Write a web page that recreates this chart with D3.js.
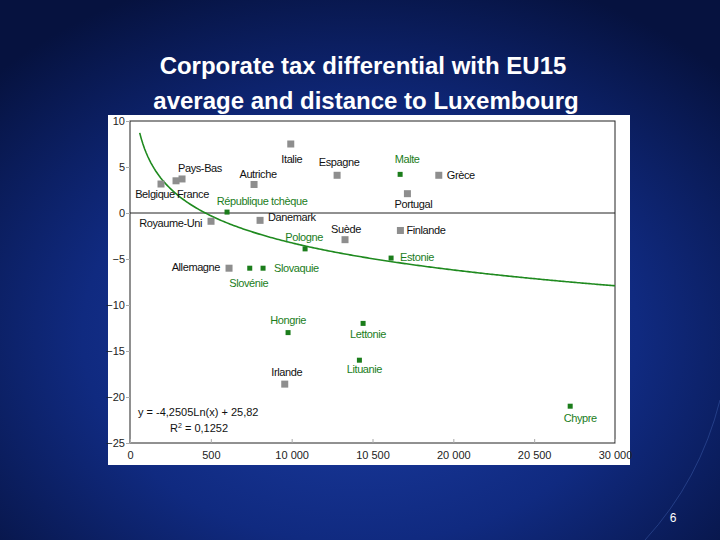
<!DOCTYPE html>
<html><head><meta charset="utf-8">
<script src="https://cdn.jsdelivr.net/npm/d3@7"></script>
<style>body{margin:0;}svg{display:block;}</style>
</head><body>
<div id="chart-area"></div>
<script>
// data
var names = ['Belgique','France','Pays-Bas','Italie','Autriche','Espagne','République tchèque','Royaume-Uni',
  'Danemark','Suède','Pologne','Allemagne','Slovénie','Slovaquie','Malte','Grèce','Portugal','Finlande',
  'Estonie','Hongrie','Lettonie','Lituanie','Irlande','Chypre'];
var distance = [1918,2847,3218,9944,7673,12810,6002,5012,8045,13300,10830,6126,7407,8230,16709,19100,17160,16726,
  16150,9777,14418,14190,9572,27228];
var taxDiff = [3.15,3.5,3.7,7.5,3.1,4.1,0.1,-0.9,-0.8,-2.9,-3.9,-6.0,-6.0,-6.0,4.2,4.1,2.1,-1.9,-4.9,-13.0,-12.0,-16.0,-18.6,-21.0];
var newMember = [0,0,0,0,0,0,1,0,0,0,1,0,1,1,1,0,0,0,1,1,1,1,0,1];
var xTicks = [0,5000,10000,15000,20000,25000,30000];
var xTickLabels = ['0','500','10 000','10 500','20 000','20 500','30 000'];
var yTicks = [10,5,0,-5,-10,-15,-20,-25];
var trend = {a:35.9, b:4.25};

// label placement [dx, dy, anchor]
var lab = {
 'Belgique':[-6,14,'middle'],'France':[1,17,'start'],'Pays-Bas':[-4,-7,'start'],'Italie':[1,19,'middle'],
 'Autriche':[4,-6,'middle'],'Espagne':[2,-9,'middle'],'République tchèque':[35,-7,'middle'],
 'Royaume-Uni':[-9,6,'end'],'Danemark':[8,1,'start'],'Suède':[1,-7,'middle'],'Pologne':[-1,-8,'middle'],
 'Allemagne':[-9,3,'end'],'Slovénie':[-1,19,'middle'],'Slovaquie':[11,4,'start'],'Malte':[7,-11,'middle'],
 'Grèce':[8,4,'start'],'Portugal':[6,14,'middle'],'Finlande':[6,4,'start'],'Estonie':[9,3,'start'],
 'Hongrie':[0,-9,'middle'],'Lettonie':[5,15,'middle'],'Lituanie':[5,13,'middle'],'Irlande':[2,-8,'middle'],
 'Chypre':[10,16,'middle']};

var data = names.map(function(n,i){return {name:n,x:distance[i],y:taxDiff[i],nm:newMember[i]};});

var svg = d3.select('#chart-area').append('svg').attr('width',720).attr('height',540);
var defs = svg.append('defs');
var grad = defs.append('radialGradient').attr('id','bg').attr('cx','50%').attr('cy','62%').attr('r','70%');
grad.append('stop').attr('offset','0%').attr('stop-color','#1d3fa8');
grad.append('stop').attr('offset','55%').attr('stop-color','#102a80');
grad.append('stop').attr('offset','100%').attr('stop-color','#06123f');
svg.append('rect').attr('width',720).attr('height',540).attr('fill','url(#bg)');
svg.append('path').attr('d','M645,540 Q700,480 720,400').attr('fill','none').attr('stroke','#4f76c8').attr('stroke-width',1).attr('opacity',0.35);

var tfont = 'Liberation Sans, Arial';
svg.append('text').attr('x',363).attr('y',74).attr('text-anchor','middle').attr('fill','#fff').attr('font-weight','bold')
  .attr('font-family',tfont).attr('font-size',24).text('Corporate tax differential with EU15');
svg.append('text').attr('x',366).attr('y',109).attr('text-anchor','middle').attr('fill','#fff').attr('font-weight','bold')
  .attr('font-family',tfont).attr('font-size',24).text('average and distance to Luxembourg');
svg.append('text').attr('x',673).attr('y',522).attr('text-anchor','middle').attr('fill','#fff')
  .attr('font-family',tfont).attr('font-size',12).text('6');

svg.append('rect').attr('x',108).attr('y',115).attr('width',522).attr('height',350).attr('fill','#fff');

var xScale = d3.scaleLinear().domain([0,30000]).range([130,615]);
var yScale = d3.scaleLinear().domain([-25,10]).range([443,121]);
var font = 'Liberation Sans Narrow, Liberation Sans, Arial';

var g = svg.append('g').attr('font-family',font);
g.append('rect').attr('x',130).attr('y',121).attr('width',485).attr('height',322)
  .attr('fill','none').attr('stroke','#222').attr('stroke-width',1);
g.append('line').attr('x1',130).attr('x2',615).attr('y1',yScale(0)).attr('y2',yScale(0)).attr('stroke','#222');

var yAxis = d3.axisLeft(yScale).tickValues(yTicks).tickSize(4).tickFormat(d3.format('d'));
g.append('g').attr('transform','translate(130,0)').call(yAxis)
  .call(function(a){a.select('.domain').remove();a.selectAll('line').attr('stroke','#aaa');
    a.selectAll('text').attr('font-size',11).attr('fill','#222').attr('font-family',font).attr('x',-5);});
var xAxis = d3.axisBottom(xScale).tickValues(xTicks).tickSize(-4).tickFormat(function(d,i){return xTickLabels[i];});
g.append('g').attr('transform','translate(0,443)').call(xAxis)
  .call(function(a){a.select('.domain').remove();a.selectAll('line').attr('stroke','#aaa');
    a.selectAll('text').attr('font-size',11).attr('fill','#222').attr('font-family',font).attr('y',8);});

// trendline
var tx = d3.range(600,30001,100);
var line = d3.line().x(function(d){return xScale(d);}).y(function(d){return yScale(trend.a-trend.b*Math.log(d));});
g.append('path').datum(tx).attr('d',line).attr('fill','none').attr('stroke','#1f8a1f').attr('stroke-width',1.6);

g.selectAll('rect.pt').data(data).enter().append('rect').attr('class','pt')
  .attr('x',function(d){return xScale(d.x)-(d.nm?2.5:3.5);})
  .attr('y',function(d){return yScale(d.y)-(d.nm?2.5:3.5);})
  .attr('width',function(d){return d.nm?5:7;}).attr('height',function(d){return d.nm?5:7;})
  .attr('fill',function(d){return d.nm?'#1b7d1b':'#8e8e8e';});

g.selectAll('text.lb').data(data).enter().append('text').attr('class','lb')
  .attr('x',function(d){return xScale(d.x)+lab[d.name][0];})
  .attr('y',function(d){return yScale(d.y)+lab[d.name][1];})
  .attr('text-anchor',function(d){return lab[d.name][2];})
  .attr('font-size',11).attr('letter-spacing',-0.4)
  .attr('fill',function(d){return d.nm?'#1b7d1b':'#111';})
  .text(function(d){return d.name;});

g.append('text').attr('x',138).attr('y',416).attr('font-size',11).attr('fill','#111').text('y = -4,2505Ln(x) + 25,82');
var r2 = g.append('text').attr('x',170).attr('y',432).attr('font-size',11).attr('fill','#111');
r2.append('tspan').text('R');
r2.append('tspan').attr('dy',-4).attr('font-size',7).text('2');
r2.append('tspan').attr('dy',4).text(' = 0,1252');
</script>
</body></html>
